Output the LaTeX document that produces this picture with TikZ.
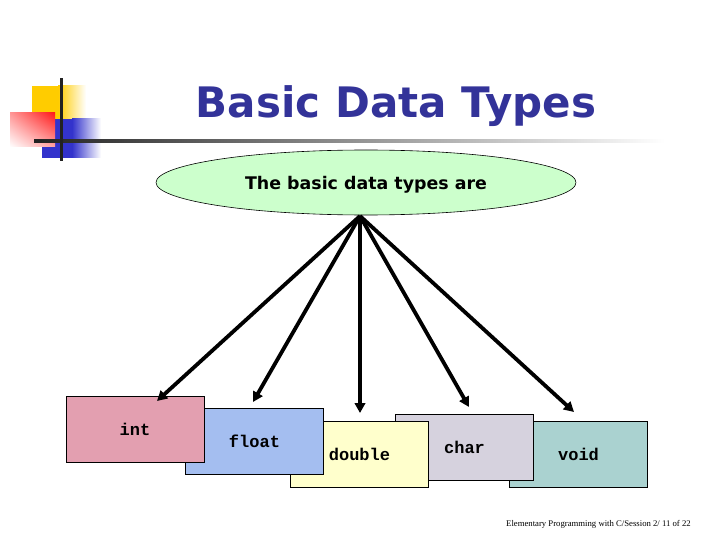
\documentclass[tikz,border=0pt]{standalone}
\usepackage{fontspec}
\setmainfont{Liberation Serif}
\newfontfamily\tah{DejaVu Sans}
\newfontfamily\cour{Liberation Mono}
\usetikzlibrary{shapes.geometric,arrows.meta,shadings}
\definecolor{titleblue}{HTML}{333399}
\definecolor{ellgreen}{HTML}{CCFFCC}
\definecolor{cint}{HTML}{E39FB0}
\definecolor{cfloat}{HTML}{A4BEF0}
\definecolor{cdouble}{HTML}{FFFFCC}
\definecolor{cchar}{HTML}{D6D2DE}
\definecolor{cvoid}{HTML}{AAD2D0}
\definecolor{logoyellow}{HTML}{FFCC00}
\definecolor{logoblue}{HTML}{3333CC}
\definecolor{logored}{HTML}{FF1A1A}
\definecolor{linedark}{HTML}{222222}
\tikzset{
  typebox/.style={draw=black, line width=0.8pt, minimum width=138pt, minimum height=66pt,
    inner sep=0pt, outer sep=0pt, font=\cour\bfseries\fontsize{17}{17}\selectfont},
  fanarrow/.style={line width=3.8pt, -{Triangle[length=10pt,width=10.5pt]}},
}
\begin{document}
\begin{tikzpicture}[x=1pt,y=-1pt]
\useasboundingbox (0,0) rectangle (720,540);
% logo
\fill[logoyellow] (32,86) rectangle (58,119);
\shade[left color=logoyellow, right color=white] (58,86) rectangle (86,119);
\fill[logoblue] (42,119) rectangle (72,158);
\shade[left color=logoblue, right color=white] (72,119) rectangle (101,158);
\shade[upper right=logored, upper left=logored!45, lower right=logored!40, lower left=white] (10,113) rectangle (55,147);
\shade[left color=linedark, right color=white] (34,139.5) rectangle (665,142.5);
\fill[linedark] (59.5,78) rectangle (62.5,161);
% title
\node[anchor=base, text=titleblue, font=\tah\bfseries\fontsize{42}{42}\selectfont, inner sep=0pt] (title) at (396,118) {Basic Data Types};
% ellipse
\node[ellipse, draw=black, line width=0.6pt, fill=ellgreen, minimum width=420pt, minimum height=65pt,
  inner sep=0pt, text height=15pt, text depth=0pt, font=\tah\bfseries\fontsize{17.4}{17.4}\selectfont] (top) at (366,182.5) {The basic data types are};
% boxes (back to front)
\node[typebox, fill=cvoid] (void) at (578.5,454) {void};
\node[typebox, fill=cchar] (char) at (464.5,447) {char};
\node[typebox, fill=cdouble] (double) at (359.5,454) {double};
\node[typebox, fill=cfloat] (float) at (254.5,441) {float};
\node[typebox, fill=cint] (int) at (135,429) {int};
% arrows
\coordinate (apex) at (360,216);
\coordinate (eint) at (157,401);
\coordinate (efloat) at (253,402);
\coordinate (edouble) at (360,413);
\coordinate (echar) at (469,407);
\coordinate (evoid) at (574,412);
\foreach \e in {eint,efloat,edouble,echar,evoid}
  \draw[fanarrow] (apex) -- (\e);
% footer
\node[font=\fontsize{8.7}{9}\selectfont, inner sep=0pt, anchor=west] (foot) at (506,524) {Elementary Programming with C/Session 2/ 11 of 22};
\end{tikzpicture}
\end{document}
